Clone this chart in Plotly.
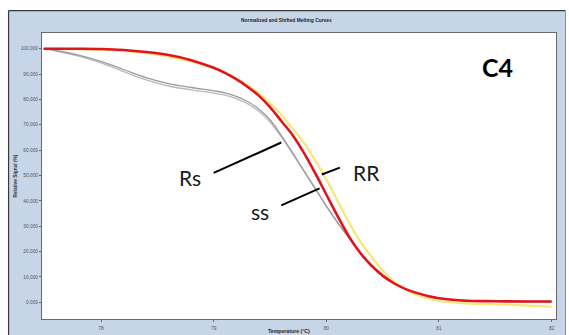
import plotly.graph_objects as go

# ---- data ----
temp = [77.49, 77.6, 77.8, 78.0, 78.2, 78.4, 78.6, 78.8, 79.0, 79.1, 79.2, 79.3, 79.4, 79.5,
        79.6, 79.7, 79.8, 79.9, 80.0, 80.1, 80.2, 80.3, 80.4, 80.5, 80.6, 80.7, 80.8, 80.9,
        81.0, 81.2, 81.5, 81.8, 82.0]

gray_a = [100, 99.3, 97.5, 95.0, 91.8, 88.6, 86.2, 84.7, 83.4, 82.6, 81.2, 79.2, 76.2, 72.0,
          65.8, 59.0, 52.0, 45.0, 38.0, 31.5, 25.5, 19.8, 14.6, 10.6, 7.5, 5.3, 3.7, 2.5,
          1.6, 0.8, 0.4, 0.3, 0.3]
gray_b = [100, 99.1, 97.1, 94.4, 91.0, 87.7, 85.3, 83.8, 82.5, 81.7, 80.3, 78.3, 75.3, 71.1,
          65.2, 58.6, 51.7, 44.8, 37.9, 31.3, 25.3, 19.6, 14.5, 10.5, 7.4, 5.2, 3.6, 2.4,
          1.5, 0.7, 0.3, 0.2, 0.2]
yellow = [100, 99.9, 99.8, 99.6, 99.1, 98.2, 96.9, 95.0, 92.3, 90.5, 88.3, 85.6, 82.5, 78.5,
          74.0, 68.5, 63.0, 56.0, 48.5, 40.0, 31.5, 24.0, 18.0, 12.5, 8.2, 5.2, 3.0, 1.5,
          0.5, -0.3, -0.8, -1.3, -1.8]
red = [100, 100, 100, 99.9, 99.5, 98.7, 97.5, 95.5, 92.5, 90.5, 88.0, 85.0, 81.5, 77.0,
       71.5, 66.0, 59.0, 51.0, 42.5, 34.0, 26.0, 19.5, 14.5, 10.5, 7.5, 5.3, 3.7, 2.5,
       1.6, 0.7, 0.4, 0.3, 0.3]

x_ticks = [78, 79, 80, 81, 82]
y_ticks = [0, 10, 20, 30, 40, 50, 60, 70, 80, 90, 100]
y_ticktext = ["0,000", "10,000", "20,000", "30,000", "40,000", "50,000",
              "60,000", "70,000", "80,000", "90,000", "100,000"]

labels = ["Rs", "RR", "ss"]
label_x = [78.79, 80.36, 79.41]
label_y = [49.2, 51.2, 35.8]
pointer_x0 = [79.00, 79.96, 79.60]
pointer_y0 = [51.0, 50.4, 38.2]
pointer_x1 = [79.60, 80.12, 79.94]
pointer_y1 = [63.0, 53.1, 44.9]

# ---- layout geometry ----
W, H = 569, 335
L, R, T, B = 41.5, 12.5, 32.5, 15.5
PW, PH = W - L - R, H - T - B


def px(x):
    return (x - L) / PW


def py(y):
    return 1 - (y - T) / PH


BLUE = "#c6d6e8"
NARROW = "Liberation Sans Narrow, Liberation Sans, Arial"

fig = go.Figure()
fig.add_trace(go.Scatter(x=temp, y=gray_b, mode="lines", line=dict(color="#bdb6c6", width=1.3, shape="spline"), showlegend=False))
fig.add_trace(go.Scatter(x=temp, y=gray_a, mode="lines", line=dict(color="#9c9c9c", width=1.3, shape="spline"), showlegend=False))
fig.add_trace(go.Scatter(x=temp, y=yellow, mode="lines", line=dict(color="#f4e878", width=2.2, shape="spline"), showlegend=False))
fig.add_trace(go.Scatter(x=temp, y=red, mode="lines", line=dict(color="#e0141e", width=2.6, shape="spline"), showlegend=False))

shapes = []
# outer white strips around the blue panel
shapes.append(dict(type="rect", xref="paper", yref="paper", x0=px(-5), x1=px(W + 5), y0=py(10), y1=py(-5),
                   fillcolor="white", line=dict(width=0), layer="above"))
shapes.append(dict(type="rect", xref="paper", yref="paper", x0=px(-5), x1=px(8), y0=py(H + 5), y1=py(-5),
                   fillcolor="white", line=dict(width=0), layer="above"))
shapes.append(dict(type="rect", xref="paper", yref="paper", x0=px(566), x1=px(W + 5), y0=py(H + 5), y1=py(-5),
                   fillcolor="white", line=dict(width=0), layer="above"))
# dark border of blue panel
shapes.append(dict(type="line", xref="paper", yref="paper", x0=px(8), x1=px(566), y0=py(10), y1=py(10),
                   line=dict(color="#3a3a3a", width=1.2), layer="above"))
shapes.append(dict(type="line", xref="paper", yref="paper", x0=px(8), x1=px(8), y0=py(10), y1=py(H + 5),
                   line=dict(color="#3a3a3a", width=1.2), layer="above"))
shapes.append(dict(type="line", xref="paper", yref="paper", x0=px(566), x1=px(566), y0=py(10), y1=py(H + 5),
                   line=dict(color="#8a8a8a", width=1), layer="above"))
# pointer lines
for i in range(len(labels)):
    shapes.append(dict(type="line", xref="x", yref="y", x0=pointer_x0[i], y0=pointer_y0[i],
                       x1=pointer_x1[i], y1=pointer_y1[i], line=dict(color="black", width=2)))

annotations = []
for i, lab in enumerate(labels):
    annotations.append(dict(x=label_x[i], y=label_y[i], xref="x", yref="y", text=lab, showarrow=False,
                            xanchor="center", yanchor="middle",
                            font=dict(family="Lato, Open Sans", size=21, color="#1a1a1a")))
annotations.append(dict(x=81.52, y=92.9, xref="x", yref="y", text="<b>C4</b>", showarrow=False,
                        xanchor="center", yanchor="middle",
                        font=dict(family="Lato, Open Sans", size=25, color="black")))
annotations.append(dict(x=px(286), y=py(20), xref="paper", yref="paper",
                        xanchor="center", yanchor="middle",
                        text="<b>Normalized and Shifted Melting Curves</b>", showarrow=False,
                        font=dict(family=NARROW, size=4.9, color="#222")))
annotations.append(dict(x=px(14), y=py(176), xref="paper", yref="paper", textangle=-90,
                        xanchor="center", yanchor="middle",
                        text="<b>Relative Signal (%)</b>", showarrow=False,
                        font=dict(family=NARROW, size=4.8, color="#333")))
annotations.append(dict(x=px(289), y=py(332), xref="paper", yref="paper",
                        xanchor="center", yanchor="middle",
                        text="<b>Temperature (°C)</b>", showarrow=False,
                        font=dict(family=NARROW, size=5.2, color="#222")))

fig.update_layout(
    width=W, height=H, autosize=False,
    margin=dict(l=L, r=R, t=T, b=B, pad=0, autoexpand=False),
    paper_bgcolor=BLUE, plot_bgcolor="white",
    shapes=shapes, annotations=annotations,
    xaxis=dict(range=[77.476, 82.039], tickvals=x_ticks, ticktext=[str(v) for v in x_ticks],
               automargin=False,
               showgrid=False, zeroline=False, showline=True, mirror=True, linecolor="#6a6a6a", linewidth=1,
               ticks="outside", ticklen=2, tickcolor="#6a6a6a", ticklabelstandoff=2,
               tickfont=dict(family=NARROW, size=4.8, color="#555")),
    yaxis=dict(range=[-6.6, 106.2], tickvals=y_ticks, ticktext=y_ticktext,
               automargin=False,
               showgrid=False, zeroline=False, showline=True, mirror=True, linecolor="#6a6a6a", linewidth=1,
               ticks="outside", ticklen=2, tickcolor="#6a6a6a",
               tickfont=dict(family=NARROW, size=4.8, color="#555")),
)

fig.write_html("out.html")
